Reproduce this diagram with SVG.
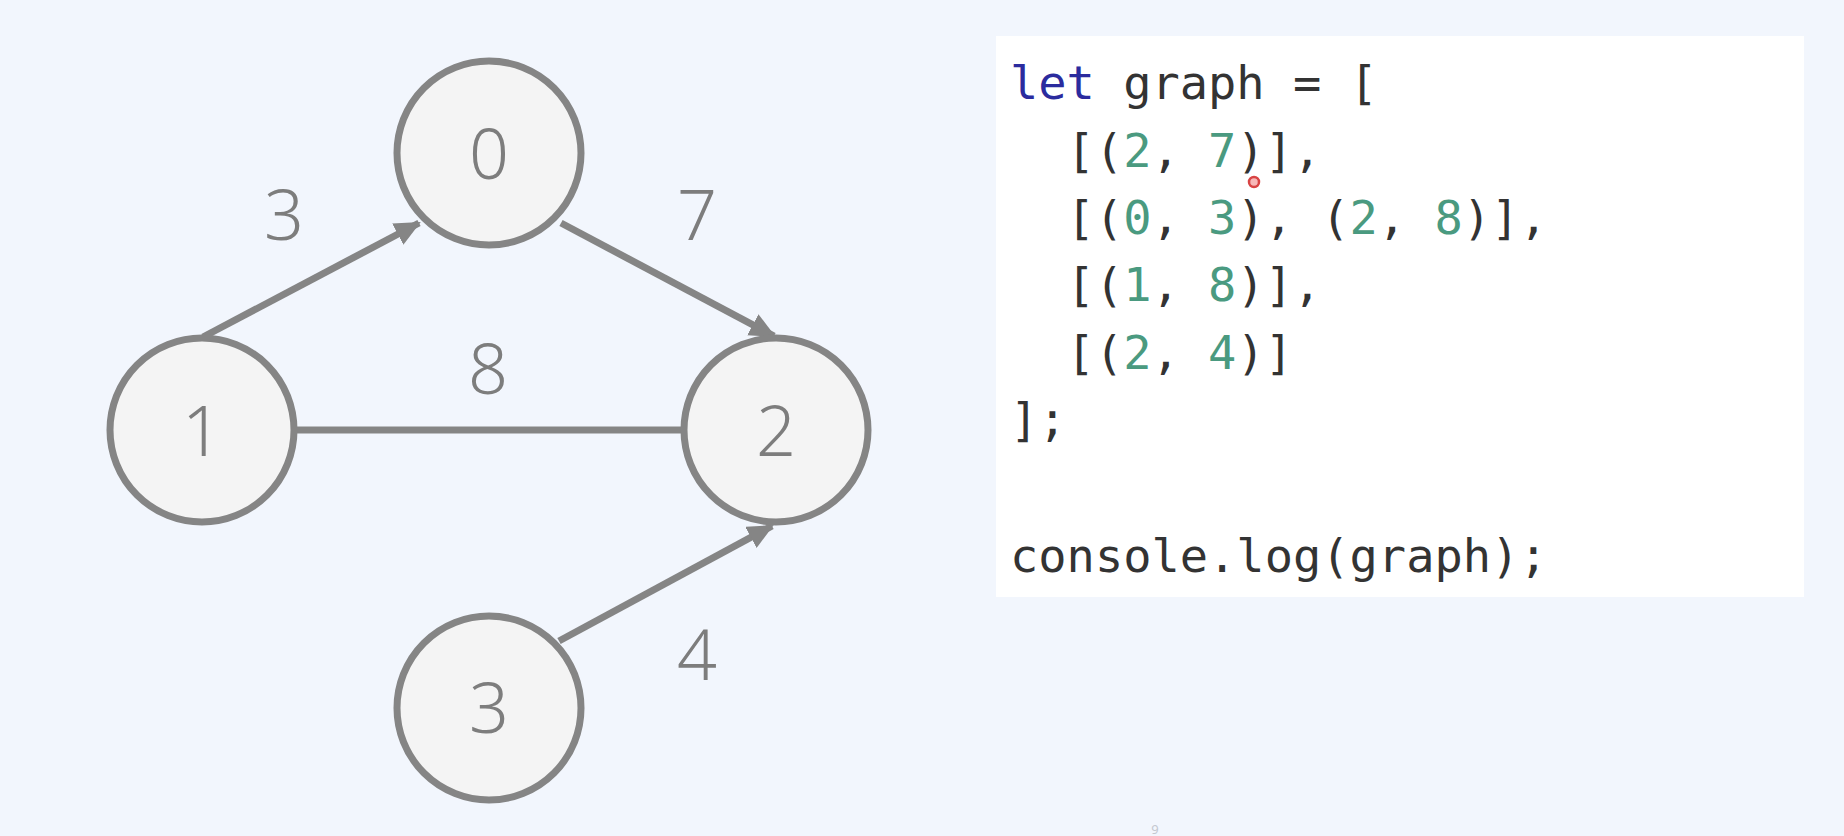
<svg xmlns="http://www.w3.org/2000/svg" width="1844" height="836" viewBox="0 0 1844 836">
<style>
.node circle{fill:#f4f4f4;stroke:#858585;stroke-width:7}
.lbl{font-family:"Noto Sans","Open Sans",sans-serif;font-weight:300;font-size:70px;fill:#7d7d7d;text-anchor:middle}
.edge{stroke:#858585;stroke-width:7;fill:none}
.code{font-family:"DejaVu Sans Mono","Liberation Mono",monospace;font-size:47px;fill:#333333}
.kw{fill:#2b2b9e}
.num{fill:#4a9a80}
</style>
<defs>
<marker id="arr" markerUnits="userSpaceOnUse" markerWidth="26" markerHeight="24" refX="24" refY="12" orient="auto">
<path d="M0,0 L26,12 L0,24 Z" fill="#858585"/>
</marker>
</defs>
<rect width="1844" height="836" fill="#f2f6fd"/>
<g id="connectors">
<line class="edge" x1="203" y1="337" x2="419" y2="223" marker-end="url(#arr)"/>
<line class="edge" x1="561" y1="223" x2="774" y2="336" marker-end="url(#arr)"/>
<line class="edge" x1="296" y1="430" x2="682" y2="430"/>
<line class="edge" x1="559" y1="641" x2="772" y2="526" marker-end="url(#arr)"/>
<text class="lbl" x="284" y="240">3</text>
<text class="lbl" x="697" y="240">7</text>
<text class="lbl" x="488" y="394">8</text>
<text class="lbl" x="697" y="680">4</text>
</g>
<g id="node0" class="node"><circle cx="489" cy="153" r="92"/><text class="lbl" x="489" y="179">0</text></g>
<g id="node1" class="node"><circle cx="202" cy="430" r="92"/><text class="lbl" x="202" y="456">1</text></g>
<g id="node2" class="node"><circle cx="776" cy="430" r="92"/><text class="lbl" x="776" y="456">2</text></g>
<g id="node3" class="node"><circle cx="489" cy="708" r="92"/><text class="lbl" x="489" y="733">3</text></g>
<g id="code">
<rect x="996" y="36" width="808" height="561" fill="#ffffff"/>
<text class="code" xml:space="preserve" x="1010" y="99"><tspan class="kw">let</tspan> graph = [</text>
<text class="code" xml:space="preserve" x="1010" y="167">  [(<tspan class="num">2</tspan>, <tspan class="num">7</tspan>)],</text>
<text class="code" xml:space="preserve" x="1010" y="234">  [(<tspan class="num">0</tspan>, <tspan class="num">3</tspan>), (<tspan class="num">2</tspan>, <tspan class="num">8</tspan>)],</text>
<text class="code" xml:space="preserve" x="1010" y="301">  [(<tspan class="num">1</tspan>, <tspan class="num">8</tspan>)],</text>
<text class="code" xml:space="preserve" x="1010" y="369">  [(<tspan class="num">2</tspan>, <tspan class="num">4</tspan>)]</text>
<text class="code" xml:space="preserve" x="1010" y="436">];</text>
<text class="code" xml:space="preserve" x="1010" y="572">console.log(graph);</text>
</g>
<circle cx="1254" cy="182" r="5" fill="#f7b8b8" stroke="#d84444" stroke-width="2.5"/>
<text x="1155" y="834" font-family="Noto Sans, sans-serif" font-size="13" fill="#c4c8d0" text-anchor="middle">9</text>
</svg>
